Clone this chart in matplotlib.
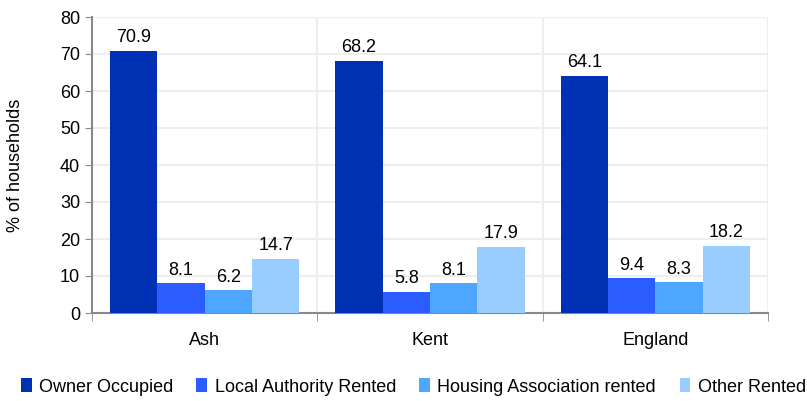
import matplotlib
matplotlib.use("Agg")
import matplotlib.pyplot as plt
import numpy as np

plt.rcParams['font.family'] = ['Liberation Sans', 'DejaVu Sans']

places = ["Ash", "Kent", "England"]
series = ["Owner Occupied", "Local Authority Rented", "Housing Association rented", "Other Rented"]
owner = [70.9, 68.2, 64.1]
la_rented = [8.1, 5.8, 9.4]
ha_rented = [6.2, 8.1, 8.3]
other = [14.7, 17.9, 18.2]
colors = ["#0030B4", "#2A5CFF", "#4DA6FF", "#99CCFF"]

fig = plt.figure(figsize=(8.07, 4.01), dpi=100)
ax = fig.add_axes([92/807, 1-313/401, 676/807, 296/401])

x = np.arange(len(places))
w = 0.21
for i, (vals, c) in enumerate(zip([owner, la_rented, ha_rented, other], colors)):
    pos = x + (i - 1.5) * w
    ax.bar(pos, vals, w, color=c, label=series[i], zorder=3)
    for p, v in zip(pos, vals):
        ax.text(p, v + 1.2, f"{v}", ha="center", va="bottom", fontsize=13)

ax.set_xlim(-0.5, 2.5)
ax.set_ylim(0, 80)
ax.set_yticks(range(0, 81, 10))
ax.tick_params(axis='y', labelsize=13, length=5, color="#888888", direction="out")
ax.set_xticks(x)
ax.set_xticklabels(places, fontsize=13)
ax.tick_params(axis='x', length=0, pad=14)
ax.set_xticks([-0.5, 0.5, 1.5, 2.5], minor=True)
ax.tick_params(axis='x', which='minor', length=6, color="#888888")
ax.grid(axis='y', color="#EEEEEE", lw=1.5, zorder=0)
for b in [0.5, 1.5, 2.5]:
    ax.axvline(b, color="#EEEEEE", lw=1.5, zorder=0)
for s in ["top", "right"]:
    ax.spines[s].set_visible(False)
for s in ["left", "bottom"]:
    ax.spines[s].set_color("#888888")
    ax.spines[s].set_linewidth(1.5)
ax.set_ylabel("% of households", fontsize=13)
ax.yaxis.set_label_coords(-0.1, 0.5)

fig.legend(loc="center", bbox_to_anchor=(0.512, 1-387/401), ncol=4, frameon=False,
           fontsize=13, handlelength=0.6, handleheight=0.8, handletextpad=0.4, columnspacing=1.3)

fig.savefig("out.png", dpi=100)
